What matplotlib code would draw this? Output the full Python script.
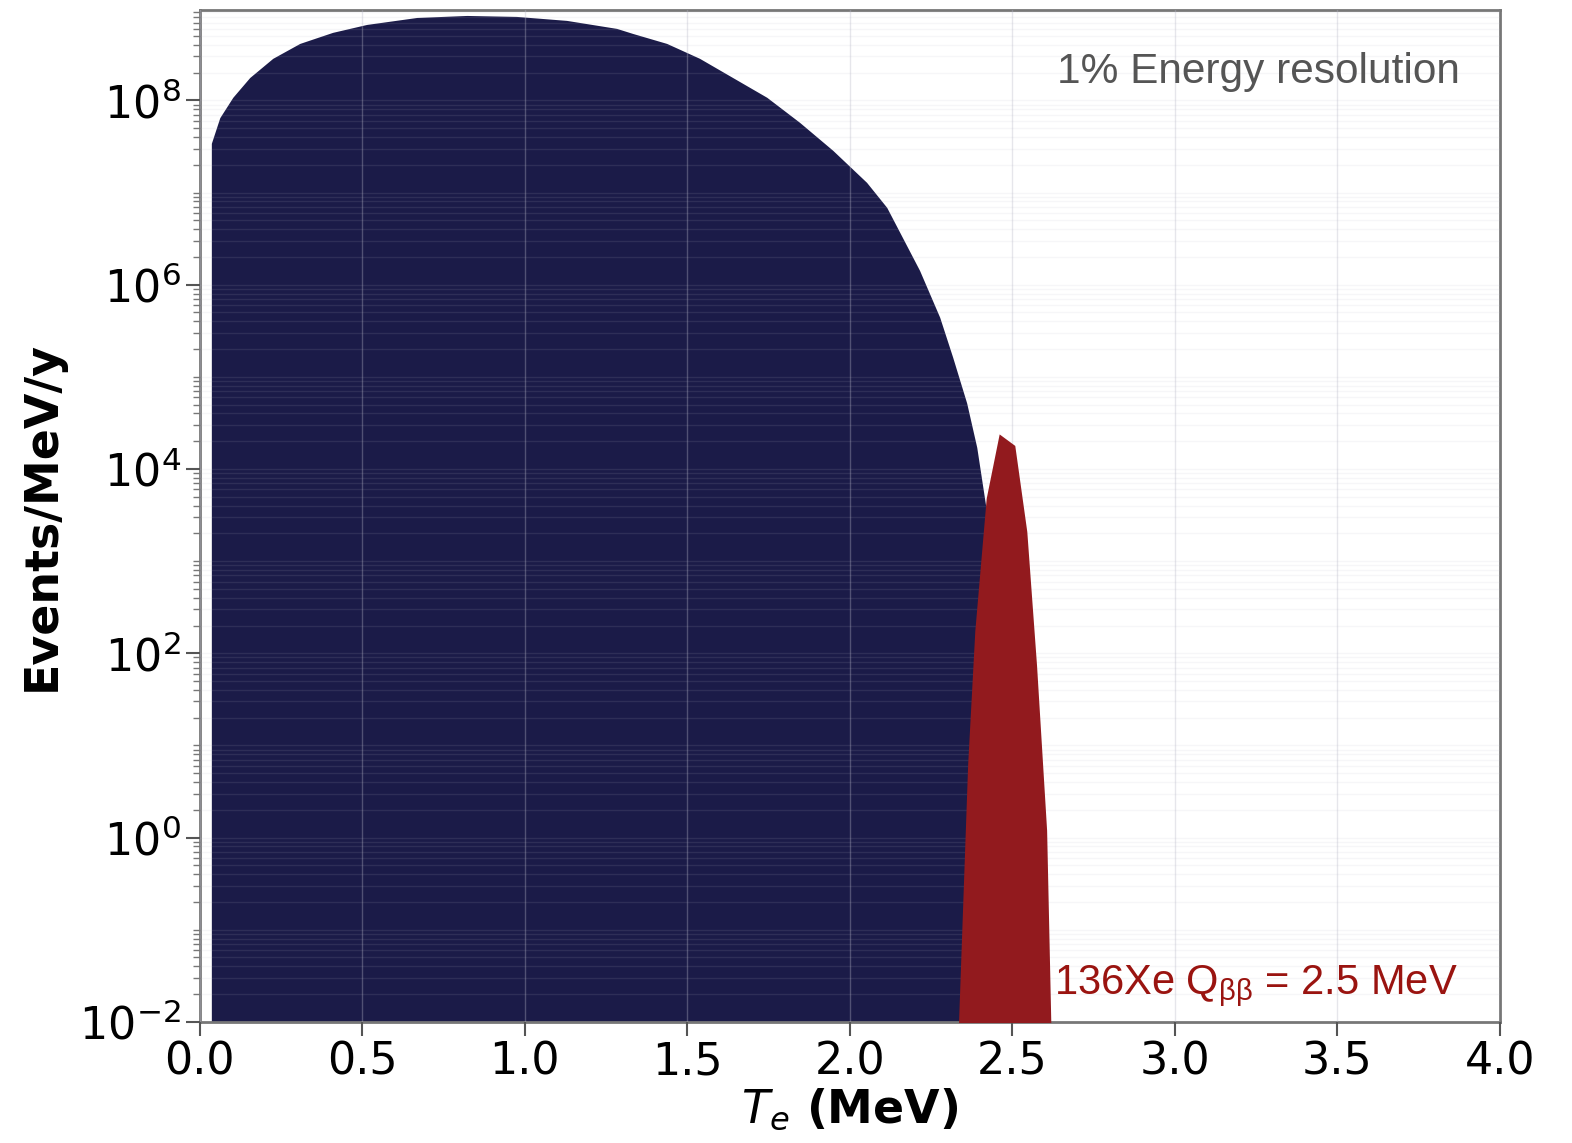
import numpy as np
import matplotlib
matplotlib.use("Agg")
import matplotlib.pyplot as plt

plt.rcParams['mathtext.fontset'] = 'dejavusans'
plt.rcParams['mathtext.rm'] = 'Liberation Sans'
plt.rcParams['mathtext.it'] = 'Liberation Sans:italic'
plt.rcParams['mathtext.bf'] = 'Liberation Sans:bold'

# 2nu-bb continuum, T_e in MeV, events/MeV/y
bb2_energy = [0.036, 0.062, 0.102, 0.154, 0.225, 0.308, 0.409, 0.514, 0.668, 0.822,
              0.975, 1.129, 1.283, 1.332, 1.437, 1.538, 1.640, 1.745, 1.846, 1.948,
              2.052, 2.114, 2.215, 2.277, 2.317, 2.360, 2.391, 2.422, 2.44, 2.46]
bb2_rate = [3.42e7, 6.5e7, 1.08e8, 1.77e8, 2.86e8, 4.15e8, 5.47e8, 6.67e8, 7.94e8, 8.35e8,
            8.15e8, 7.38e8, 6.04e8, 5.33e8, 4.15e8, 2.86e8, 1.77e8, 1.08e8, 5.77e7, 2.87e7,
            1.29e7, 6.9e6, 1.43e6, 4.43e5, 1.63e5, 5.2e4, 1.72e4, 3.3e3, 3.0e2, 1.0e-3]

# 0nu-bb peak at Q = 2.5 MeV with 1% resolution
bb0_energy = [2.325, 2.363, 2.385, 2.42, 2.46, 2.508, 2.545, 2.575, 2.606, 2.625]
bb0_rate = [1e-3, 6.2, 1.75e2, 4.8e3, 2.4e4, 1.8e4, 2.1e3, 7.4e1, 1.2, 1e-3]

fig = plt.figure(figsize=(15.72, 11.43), dpi=100)
ax = fig.add_axes([0.127, 0.106, 0.827, 0.885])

ax.fill_between(bb2_energy, 1e-3, bb2_rate, color='#1b1b48', lw=0, zorder=2)
ax.fill_between(bb0_energy, 1e-3, bb0_rate, color='#921a1e', lw=0, zorder=3)

ax.set_yscale('log')
ax.set_xlim(0, 4)
ax.set_ylim(1e-2, 9.5e8)
ax.set_xticks(np.arange(0, 4.01, 0.5))
ax.set_yticks([1e-2, 1e0, 1e2, 1e4, 1e6, 1e8])
ax.yaxis.set_minor_locator(matplotlib.ticker.LogLocator(base=10, subs=np.arange(1, 10), numticks=100))
ax.yaxis.set_minor_formatter(matplotlib.ticker.NullFormatter())

ax.grid(True, axis='x', which='major', color='#b8b8c8', alpha=0.35, lw=1, zorder=4)
ax.grid(True, axis='y', which='both', color='#b8b8c8', alpha=0.12, lw=1, zorder=4)
ax.set_axisbelow(False)

for s in ax.spines.values():
    s.set_color('#777777')
    s.set_linewidth(2)
ax.tick_params(axis='both', which='major', labelsize=32, length=10, width=1.5, color='#555555')
ax.tick_params(axis='y', which='minor', length=5, width=1, color='#777777')

ax.set_ylabel('Events/MeV/y', fontsize=33, fontweight='bold', labelpad=10)
ax.set_xlabel(r'$T_e$ (MeV)', fontsize=33, fontweight='bold', labelpad=2)

ax.text(0.969, 0.928, '1% Energy resolution', transform=ax.transAxes, ha='right', va='baseline',
        fontsize=30.5, color='#555555', family='Liberation Sans')
ax.text(0.968, 0.027, r'136Xe Q$_{\mathrm{\beta\beta}}$ = 2.5 MeV', transform=ax.transAxes,
        ha='right', va='baseline', fontsize=30, color='#9a1410', family='Liberation Sans',
        math_fontfamily='custom')

fig.savefig('out.png', dpi=100)
